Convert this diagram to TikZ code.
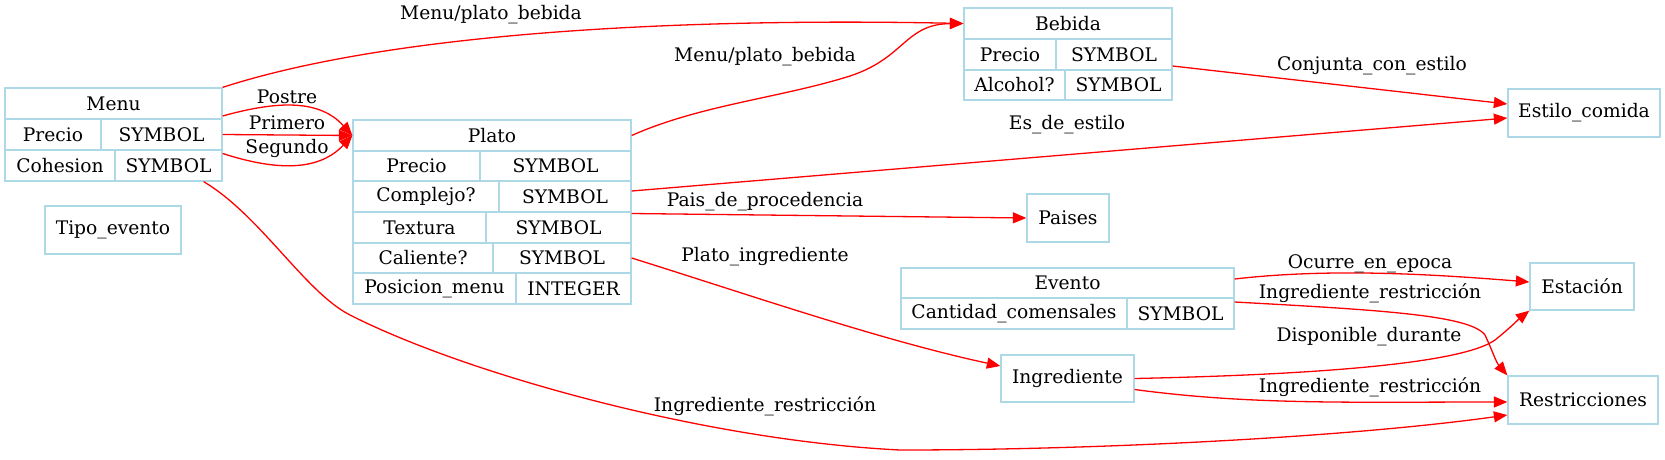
\documentclass[tikz,border=0pt]{standalone}
\usepackage{fontspec}
\setmainfont{DejaVu Serif}
\usetikzlibrary{arrows.meta}
\definecolor{lb}{HTML}{ADD8E6}
\newcommand\gvfont{\fontsize{18.67}{22}\selectfont}
\newcommand\cell[6]{\node[cellst,minimum width={(#4-#2)*1pt},minimum height={(#5-#3)*1pt}] (#1) at ({(#2+#4)/2},{(#3+#5)/2}) {#6};}
\tikzset{
  cellst/.style={draw=lb, line width=1.3pt, inner sep=0pt, font=\gvfont, text=black},
  lbl/.style={inner sep=0pt, font=\gvfont, text=black},
  rel/.style={draw=red, line width=1.3pt, -{Triangle[length=13.5pt,width=11pt]}},
}
\begin{document}
\begin{tikzpicture}[x=1pt,y=-1pt]
\useasboundingbox (0,0) rectangle (1665,459);
% Menu
\cell{menuH}{5}{88}{222}{119}{Menu}
\cell{menuP1}{5}{119}{101}{150}{Precio}
\cell{menuP2}{101}{119}{222}{150}{SYMBOL}
\cell{menuC1}{5}{150}{115}{181}{Cohesion}
\cell{menuC2}{115}{150}{222}{181}{SYMBOL}
% Tipo_evento
\cell{tipo}{45}{206}{181}{254}{Tipo\_evento}
% Plato
\cell{platoH}{353}{120}{631}{151}{Plato}
\cell{platoP1}{353}{151}{480}{181}{Precio}
\cell{platoP2}{480}{151}{631}{181}{SYMBOL}
\cell{platoC1}{353}{181}{499}{212}{Complejo?}
\cell{platoC2}{499}{181}{631}{212}{SYMBOL}
\cell{platoT1}{353}{212}{486}{243}{Textura}
\cell{platoT2}{486}{212}{631}{243}{SYMBOL}
\cell{platoK1}{353}{243}{493}{273}{Caliente?}
\cell{platoK2}{493}{243}{631}{273}{SYMBOL}
\cell{platoM1}{353}{273}{516}{304}{Posicion\_menu}
\cell{platoM2}{516}{273}{631}{304}{INTEGER}
% Bebida
\cell{bebH}{964}{8}{1172}{39}{Bebida}
\cell{bebP1}{964}{39}{1056}{70}{Precio}
\cell{bebP2}{1056}{39}{1172}{70}{SYMBOL}
\cell{bebA1}{964}{70}{1065}{100}{Alcohol?}
\cell{bebA2}{1065}{70}{1172}{100}{SYMBOL}
% Evento
\cell{evH}{901}{268}{1234}{298}{Evento}
\cell{evC1}{901}{298}{1127}{329}{Cantidad\_comensales}
\cell{evC2}{1127}{298}{1234}{329}{SYMBOL}
% simple boxes
\cell{estilo}{1508}{89}{1660}{137}{Estilo\_comida}
\cell{paises}{1027}{194}{1109}{242}{Paises}
\cell{ingred}{1001}{355}{1134}{402}{Ingrediente}
\cell{estacion}{1530}{263}{1634}{310}{Estación}
\cell{restric}{1508}{376}{1658}{424}{Restricciones}
% connectors
\draw[rel] (menuH.north east) .. controls (400,30) and (700,18) .. (bebH.west);
\draw[rel] (platoH.east) .. controls (700,105) and (780,98) .. (850,76) .. controls (905,58) and (905,24) .. (bebH.west);
\draw[rel] ([yshift=-12.5pt]menuH.east) .. controls (280,100) and (320,100) .. (platoH.west);
\draw[rel] (menuP2.east) -- (platoH.west);
\draw[rel] ([yshift=12pt]menuC2.east) .. controls (280,172) and (320,170) .. (platoH.west);
\draw[rel] ([xshift=-19pt]menuC2.south east) .. controls (260,215) and (305,292) .. (350,315) .. controls (462,372) and (700,440) .. (900,450) .. controls (1100,450) and (1350,437) .. ([yshift=-15pt]restric.west);
\draw[rel] ([yshift=-11.5pt]bebP2.east) -- ([yshift=9pt]estilo.west);
\draw[rel] ([yshift=5.5pt]platoC2.east) -- ([yshift=-5pt]estilo.west);
\draw[rel] ([yshift=14pt]platoT2.east) -- (paises.west);
\draw[rel] (platoK2.east) .. controls (750,295) and (880,340) .. ([yshift=12.5pt]ingred.west);
\draw[rel] ([yshift=4pt]evH.east) .. controls (1330,268) and (1430,274) .. ([yshift=4.5pt]estacion.west);
\draw[rel] ([yshift=11.5pt]evC2.east) .. controls (1380,310) and (1470,315) .. (1485,335) .. controls (1492,350) and (1496,362) .. (restric.north west);
\draw[rel] (ingred.east) .. controls (1300,375) and (1460,365) .. (1495,340) .. controls (1510,328) and (1520,318) .. (estacion.south west);
\draw[rel] ([yshift=-11pt]ingred.east) .. controls (1250,405) and (1350,402) .. ([yshift=-2pt]restric.west);
% labels
\node[lbl] (l1) at (491,15) {Menu/plato\_bebida};
\node[lbl] (l2) at (765,57) {Menu/plato\_bebida};
\node[lbl] (l3) at (287,97) {Postre};
\node[lbl] (l4) at (287,123) {Primero};
\node[lbl] (l5) at (287,148) {Segundo};
\node[lbl] (l6) at (1372,66) {Conjunta\_con\_estilo};
\node[lbl] (l7) at (1067,125) {Es\_de\_estilo};
\node[lbl] (l8) at (765,202) {Pais\_de\_procedencia};
\node[lbl] (l9) at (765,257) {Plato\_ingrediente};
\node[lbl] (l10) at (765,406) {Ingrediente\_restricción};
\node[lbl] (l11) at (1370,264) {Ocurre\_en\_epoca};
\node[lbl] (l12) at (1370,293) {Ingrediente\_restricción};
\node[lbl] (l13) at (1369,337) {Disponible\_durante};
\node[lbl] (l14) at (1370,387) {Ingrediente\_restricción};
\end{tikzpicture}
\end{document}
